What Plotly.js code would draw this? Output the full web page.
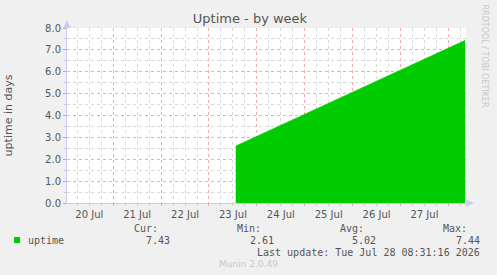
<!DOCTYPE html>
<html>
<head>
<meta charset="utf-8">
<script src="https://cdn.plot.ly/plotly-3.0.1.min.js"></script>
<style>html,body{margin:0;padding:0;background:#f0f0f0;}#chart{width:497px;height:275px;}</style>
</head>
<body>
<div id="chart"></div>
<script>
// ---- data ----
const uptimeTimes = ["2026-07-23 13:25", "2026-07-28 08:24"];
const uptimeDays  = [2.61, 7.44];
const xRange = ["2026-07-20 00:50", "2026-07-28 08:50"];
const yRange = [0, 8];
const legendLabels = ["Cur:", "Min:", "Avg:", "Max:"];
const legendValues = ["7.43", "2.61", "5.02", "7.44"];
const seriesName = "uptime";
const lastUpdate = "Last update: Tue Jul 28 08:31:16 2026";

// ---- layout helpers ----
const W = 497, H = 275, L = 67, R = 466.5, T = 28, B = 203;
const px = x => (x - L) / (R - L);
const py = y => (B - y) / (B - T);
const mono = {family: "DejaVu Sans Mono", size: 10, color: "#555"};

const colsRight = [160, 263, 366, 470];
const valsRight = [172, 276, 378, 483];
const annotations = [];
legendLabels.forEach((t, i) => annotations.push({text: t, x: px(colsRight[i]), y: py(228), xref: "paper", yref: "paper", xanchor: "right", yanchor: "middle", showarrow: false, font: mono}));
legendValues.forEach((t, i) => annotations.push({text: t, x: px(valsRight[i]), y: py(240), xref: "paper", yref: "paper", xanchor: "right", yanchor: "middle", showarrow: false, font: mono}));
annotations.push({text: seriesName, x: px(26), y: py(240), xref: "paper", yref: "paper", xanchor: "left", yanchor: "middle", showarrow: false, font: mono});
annotations.push({text: lastUpdate, x: px(483), y: py(252), xref: "paper", yref: "paper", xanchor: "right", yanchor: "middle", showarrow: false, font: mono});
annotations.push({text: "Munin 2.0.49", x: px(249), y: py(264), xref: "paper", yref: "paper", xanchor: "center", yanchor: "middle", showarrow: false, font: {family: "DejaVu Sans", size: 9, color: "#c8c8c8"}});
annotations.push({text: "RRDTOOL / TOBI OETIKER", x: px(486), y: py(56), xref: "paper", yref: "paper", xanchor: "center", yanchor: "middle", textangle: 90, showarrow: false, font: {family: "DejaVu Sans", size: 8, color: "#c8c8c8"}});

const shapes = [
  {type: "rect", xref: "paper", yref: "paper", x0: px(14), x1: px(20), y0: py(243), y1: py(237), fillcolor: "#00cc00", line: {width: 0}},
  {type: "path", xref: "paper", yref: "paper", xsizemode: "pixel", ysizemode: "pixel", xanchor: 0, yanchor: 1, path: "M -3.5,0 L 3.5,0 L 0,8 Z", fillcolor: "#c8ccf4", line: {width: 0}},
  {type: "path", xref: "paper", yref: "paper", xsizemode: "pixel", ysizemode: "pixel", xanchor: 1, yanchor: 0, path: "M 0,-3.5 L 0,3.5 L 8,0 Z", fillcolor: "#c8ccf4", line: {width: 0}}
];

const trace = {
  type: "scatter", mode: "lines", x: uptimeTimes, y: uptimeDays,
  fill: "tozeroy", fillcolor: "#00cc00", line: {color: "#00cc00", width: 0.5},
  hoverinfo: "skip", showlegend: false
};

const layout = {
  width: W, height: H,
  margin: {l: L, r: W - R, t: T, b: H - B, pad: 0},
  paper_bgcolor: "#f0f0f0", plot_bgcolor: "#ffffff",
  font: {family: "DejaVu Sans", size: 10, color: "#555"},
  title: {text: "Uptime - by week", x: 0.503, xanchor: "center", y: 1 - 18 / H, yanchor: "middle", font: {family: "DejaVu Sans", size: 13, color: "#555"}},
  showlegend: false,
  xaxis: {
    type: "date", range: xRange, fixedrange: true, layer: "below traces",
    tick0: "2026-07-20", dtick: 86400000, ticklabelmode: "period", tickformat: "%d %b",
    showgrid: true, gridcolor: "#eab0b0", griddash: "dot", gridwidth: 1,
    ticks: "outside", ticklen: 2, tickcolor: "#e6a0a0",
    minor: {dtick: 21600000, showgrid: true, gridcolor: "#d8d8d8", griddash: "dot", ticks: "outside", ticklen: 2, tickcolor: "#cccccc"},
    showline: true, linecolor: "#c8ccf4", linewidth: 1, zeroline: false,
    tickfont: {family: "DejaVu Sans", size: 10, color: "#555"}
  },
  yaxis: {
    range: yRange, fixedrange: true, dtick: 1, tickformat: ".1f", layer: "below traces",
    showgrid: true, gridcolor: "#eab0b0", griddash: "dot", gridwidth: 1,
    ticks: "outside", ticklen: 3, tickcolor: "#e6a0a0",
    minor: {dtick: 0.5, showgrid: true, gridcolor: "#d8d8d8", griddash: "dot", ticks: "outside", ticklen: 2, tickcolor: "#cccccc"},
    showline: true, linecolor: "#c8ccf4", linewidth: 1, zeroline: false,
    tickfont: {family: "DejaVu Sans", size: 10, color: "#555"},
    title: {text: "uptime in days", standoff: 30, font: {family: "DejaVu Sans", size: 11, color: "#555"}}
  },
  annotations: annotations,
  shapes: shapes
};

Plotly.newPlot("chart", [trace], layout, {staticPlot: true, displayModeBar: false});
</script>
</body>
</html>
